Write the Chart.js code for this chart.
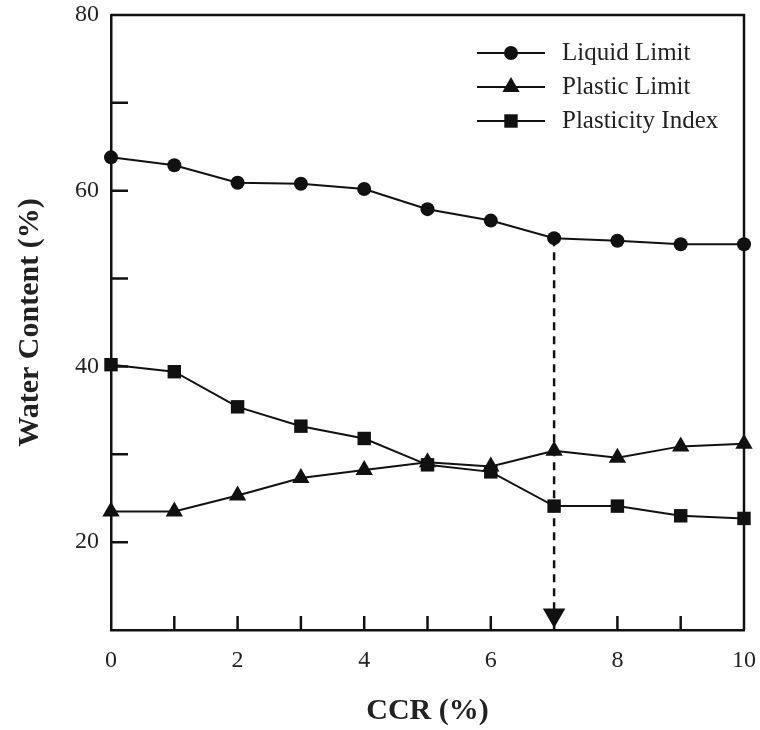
<!DOCTYPE html>
<html>
<head>
<meta charset="utf-8">
<script src="https://cdn.jsdelivr.net/npm/chart.js@4"></script>
<style>
  body { margin: 0; background: #fff; }
  #chart { display: block; }
</style>
</head>
<body>
<canvas id="chart" width="760" height="730"></canvas>
<script>
// CCR (%) on x, water content (%) on y
const ccr = [0, 1, 2, 3, 4, 5, 6, 7, 8, 9, 10];
const liquidLimit = [63.8, 62.9, 60.9, 60.8, 60.2, 57.9, 56.6, 54.6, 54.3, 53.9, 53.9];
const plasticLimit = [23.5, 23.5, 25.3, 27.3, 28.2, 29.1, 28.6, 30.4, 29.6, 30.9, 31.2];
const plasticityIndex = [40.2, 39.4, 35.4, 33.2, 31.8, 28.8, 28.0, 24.1, 24.1, 23.0, 22.7];
const seriesNames = ["Liquid Limit", "Plastic Limit", "Plasticity Index"];
const markerCcr = 7;       // optimum CCR pointed by the dashed arrow
const arrowEnd = 11.7;

const ink = "#111";
const serif = "'Liberation Serif', 'Times New Roman', serif";

const toPoints = vals => ccr.map((x, i) => ({ x: x, y: vals[i] }));

function lineSet(label, vals, style, radius) {
  return {
    label: label,
    data: toPoints(vals),
    borderColor: ink,
    backgroundColor: ink,
    borderWidth: 2,
    pointStyle: style,
    pointRadius: radius,
    pointBorderWidth: 0,
    showLine: true,
    clip: false,
    tension: 0
  };
}

// inward tick marks + closed frame
const framePlugin = {
  id: "frame",
  beforeDatasetsDraw(chart) {
    const { ctx, chartArea: a, scales: { x, y } } = chart;
    ctx.save();
    ctx.strokeStyle = ink;
    ctx.lineWidth = 2.5;
    ctx.beginPath();
    y.ticks.forEach(t => {
      if (t.value <= y.min || t.value >= y.max) return;
      const py = y.getPixelForValue(t.value);
      ctx.moveTo(a.left, py);
      ctx.lineTo(a.left + 17, py);
    });
    x.ticks.forEach(t => {
      if (t.value <= x.min || t.value >= x.max) return;
      const px = x.getPixelForValue(t.value);
      ctx.moveTo(px, a.bottom);
      ctx.lineTo(px, a.bottom - 14);
    });
    ctx.stroke();
    ctx.restore();
  },
  afterDraw(chart) {
    const { ctx, chartArea: a } = chart;
    ctx.save();
    ctx.strokeStyle = ink;
    ctx.lineWidth = 2.5;
    ctx.beginPath();
    ctx.moveTo(a.left, a.top);
    ctx.lineTo(a.right, a.top);
    ctx.lineTo(a.right, a.bottom);
    ctx.stroke();
    ctx.restore();
  }
};

// legend drawn inside the plot, upper right
const legendPlugin = {
  id: "innerLegend",
  afterDraw(chart) {
    const { ctx } = chart;
    const x0 = 477, x1 = 545, tx = 562;
    let yy = 53;
    ctx.save();
    ctx.font = "25px " + serif;
    ctx.textBaseline = "middle";
    for (let i = 0; i < 3; i++) {
      const ds = chart.data.datasets[i];
      ctx.strokeStyle = ink;
      ctx.fillStyle = ink;
      ctx.lineWidth = 2;
      ctx.beginPath();
      ctx.moveTo(x0, yy);
      ctx.lineTo(x1, yy);
      ctx.stroke();
      Chart.helpers.drawPoint(ctx, {
        pointStyle: ds.pointStyle,
        radius: ds.pointRadius,
        borderWidth: 0,
        rotation: 0
      }, (x0 + x1) / 2, yy);
      ctx.fillStyle = "#222";
      ctx.fillText(ds.label, tx, yy);
      yy += 34;
    }
    ctx.restore();
  }
};

new Chart(document.getElementById("chart"), {
  type: "scatter",
  data: {
    datasets: [
      lineSet(seriesNames[0], liquidLimit, "circle", 7),
      lineSet(seriesNames[1], plasticLimit, "triangle", 10),
      lineSet(seriesNames[2], plasticityIndex, "rect", 9.5),
      {
        label: "arrow",
        data: [{ x: markerCcr, y: liquidLimit[ccr.indexOf(markerCcr)] }, { x: markerCcr, y: arrowEnd }],
        borderColor: ink,
        backgroundColor: ink,
        borderWidth: 2.5,
        borderDash: [8, 6],
        showLine: true,
        pointStyle: "triangle",
        pointRadius: [0, 13],
        rotation: 180,
        pointBorderWidth: 0,
        clip: false
      }
    ]
  },
  options: {
    responsive: false,
    animation: false,
    layout: { padding: { top: 15, right: 16, left: 0, bottom: 0 } },
    plugins: {
      legend: { display: false },
      tooltip: { enabled: false }
    },
    scales: {
      x: {
        type: "linear",
        min: 0,
        max: 10,
        grid: { display: false, drawTicks: false },
        border: { display: true, color: ink, width: 2.5 },
        ticks: {
          stepSize: 1,
          autoSkip: false,
          maxRotation: 0,
          padding: 16,
          color: "#222",
          font: { family: serif, size: 24 },
          callback: v => (v % 2 === 0 ? v : "")
        },
        title: {
          display: true,
          text: "CCR (%)",
          color: "#222",
          font: { family: serif, size: 30, weight: "bold" },
          padding: { top: 0, bottom: 1 }
        },
        afterFit: s => { s.height = 100; s.paddingLeft = 0; s.paddingRight = 0; }
      },
      y: {
        min: 10,
        max: 80,
        grid: { display: false, drawTicks: false },
        border: { display: true, color: ink, width: 2.5 },
        ticks: {
          stepSize: 10,
          padding: 12,
          color: "#222",
          font: { family: serif, size: 24 },
          callback: v => (v % 20 === 0 ? v : "")
        },
        title: {
          display: true,
          text: "Water Content (%)",
          color: "#222",
          font: { family: serif, size: 30, weight: "bold" },
          padding: { top: 12, bottom: 0 }
        },
        afterFit: s => { s.width = 111; s.paddingTop = 0; s.paddingBottom = 0; }
      }
    }
  },
  plugins: [framePlugin, legendPlugin]
});
</script>
</body>
</html>
